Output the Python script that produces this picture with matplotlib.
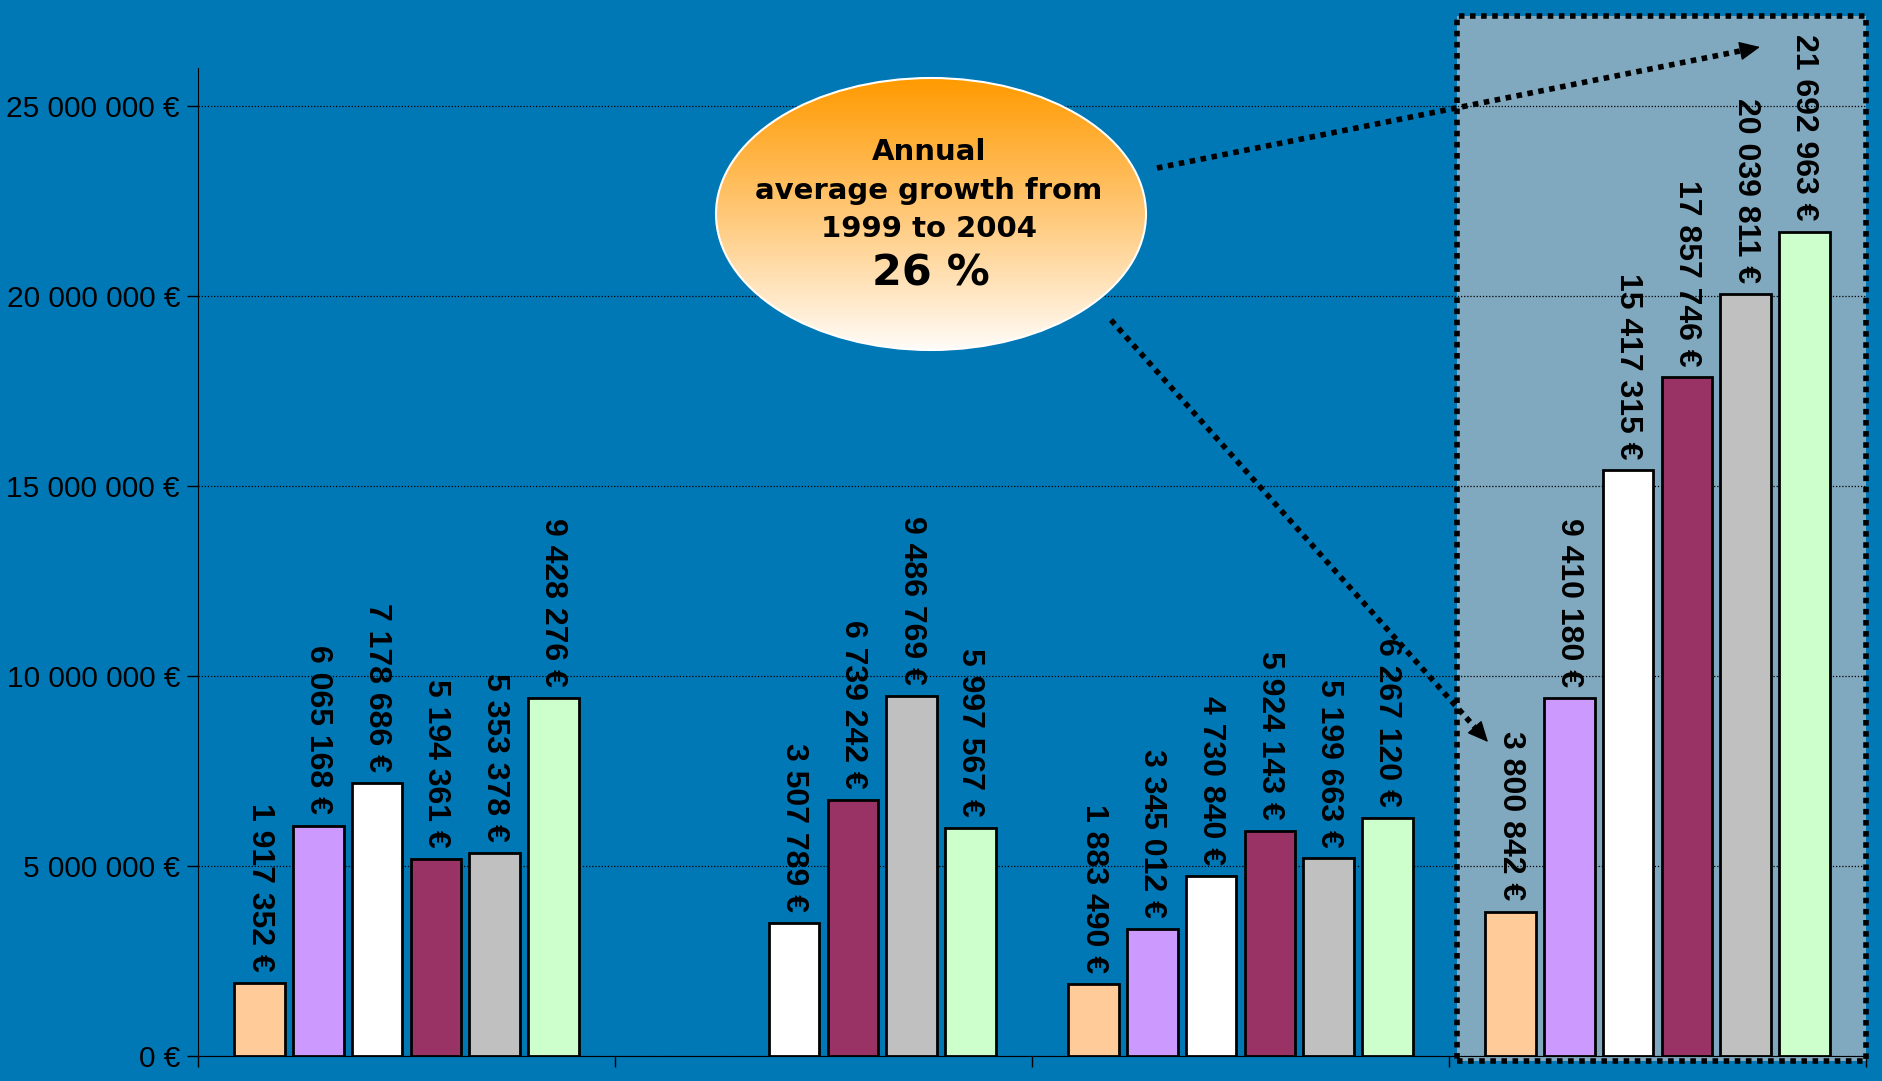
import matplotlib
matplotlib.use("Agg")
import matplotlib.pyplot as plt
import numpy as np
from matplotlib.patches import Ellipse, Rectangle
from matplotlib.colors import LinearSegmentedColormap
from matplotlib.ticker import FuncFormatter

# data (group 2 has no 1999/2000 values)
groups = ["Group 1", "Group 2", "Group 3", "Total"]
years = ["1999", "2000", "2001", "2002", "2003", "2004"]
v1999 = [1917352, np.nan, 1883490, 3800842]
v2000 = [6065168, np.nan, 3345012, 9410180]
v2001 = [7178686, 3507789, 4730840, 15417315]
v2002 = [5194361, 6739242, 5924143, 17857746]
v2003 = [5353378, 9486769, 5199663, 20039811]
v2004 = [9428276, 5997567, 6267120, 21692963]
series = [v1999, v2000, v2001, v2002, v2003, v2004]
colors = ["#FFCC99", "#CC99FF", "#FFFFFF", "#993366", "#C0C0C0", "#CCFFCC"]

BG = "#0078B6"
BOX = "#80A8BE"
W, H = 1882, 1081

plt.rcParams["font.family"] = ["Liberation Sans", "DejaVu Sans"]

fig = plt.figure(figsize=(W / 100, H / 100), dpi=100, facecolor=BG)
ax = fig.add_axes([198 / W, 1 - 1056 / H, (1866 - 198) / W, (1056 - 68) / H])
ax.set_facecolor("none")

x = np.arange(len(groups))
pitch = 0.141
width = 0.121

for i, vals in enumerate(series):
    xs = x + (i - 2.5) * pitch
    ax.bar(xs, vals, width, color=colors[i], edgecolor="black", linewidth=2, zorder=2)
    for xi, v in zip(xs, vals):
        if np.isnan(v):
            continue
        lab = f"{v:,.0f} €".replace(",", " ")
        ax.annotate(lab, (xi, v), xytext=(0, 8), textcoords="offset points",
                    rotation=270, ha="center", va="bottom", family="Liberation Sans",
                    fontsize=23, fontweight="bold", color="black", zorder=3)

# highlighted "total" box
ax.add_patch(Rectangle((2.52, -0.13e6), 0.98, 27.49e6, facecolor=BOX,
                       edgecolor="black", linewidth=4, linestyle=(0, (1, 1)),
                       clip_on=False, zorder=0.3))

ax.set_xlim(-0.5, 3.5)
ax.set_ylim(0, 26e6)
ax.set_yticks(np.arange(0, 25e6 + 1, 5e6))
ax.yaxis.set_major_formatter(FuncFormatter(lambda v, p: f"{v:,.0f} €".replace(",", " ")))
ax.set_xticks(np.arange(-0.5, 4, 1))
ax.set_xticklabels([])
ax.tick_params(axis="y", length=8, width=1, pad=5, labelsize=21.5, colors="black")
ax.tick_params(axis="x", length=8, width=1)
ax.set_axisbelow(True)
ax.yaxis.grid(True, color="black", linestyle=(0, (1, 1.5)), linewidth=0.9)
for s in ["top", "right"]:
    ax.spines[s].set_visible(False)
ax.spines["left"].set_color("black")
ax.spines["bottom"].set_color("black")

# overlay in pixel coordinates for the callout
ov = fig.add_axes([0, 0, 1, 1], zorder=5)
ov.set_xlim(0, W)
ov.set_ylim(H, 0)
ov.axis("off")

cx, cy, ew, eh = 931, 214, 430, 272
ell = Ellipse((cx, cy), ew, eh, facecolor="none", edgecolor="white", linewidth=1.5)
ov.add_patch(ell)
cmap = LinearSegmentedColormap.from_list("og", ["#FF9A00", "#FFC878", "#FFFCF8"])
grad = np.linspace(0, 1, 256).reshape(-1, 1)
im = ov.imshow(grad, cmap=cmap, aspect="auto",
               extent=(cx - ew / 2, cx + ew / 2, cy + eh / 2, cy - eh / 2), zorder=1)
im.set_clip_path(ell)
ell.set_zorder(2)

tkw = dict(ha="center", va="center", fontweight="bold", color="black",
           family="DejaVu Sans", zorder=3)
ov.text(929, 152, "Annual", fontsize=21, **tkw)
ov.text(929, 191, "average growth from", fontsize=21, **tkw)
ov.text(929, 229, "1999 to 2004", fontsize=21, **tkw)
ov.text(931, 273, "26 %", fontsize=31, **tkw)

# dotted arrows
arrows = [((1157, 168), (1760, 47)), ((1111, 320), (1488, 742))]
for (x0, y0), (x1, y1) in arrows:
    d = np.hypot(x1 - x0, y1 - y0)
    ux, uy = (x1 - x0) / d, (y1 - y0) / d
    ov.plot([x0, x1 - 14 * ux], [y0, y1 - 14 * uy], color="black", linewidth=4,
            linestyle=(0, (1, 1)), solid_capstyle="butt", zorder=4)
    ov.annotate("", xy=(x1, y1), xytext=(x1 - 16 * ux, y1 - 16 * uy),
                arrowprops=dict(arrowstyle="-|>,head_length=1.3,head_width=0.6",
                                color="black", linewidth=1, shrinkA=0, shrinkB=0),
                zorder=4)

fig.savefig("out.png", dpi=100, facecolor=BG)
